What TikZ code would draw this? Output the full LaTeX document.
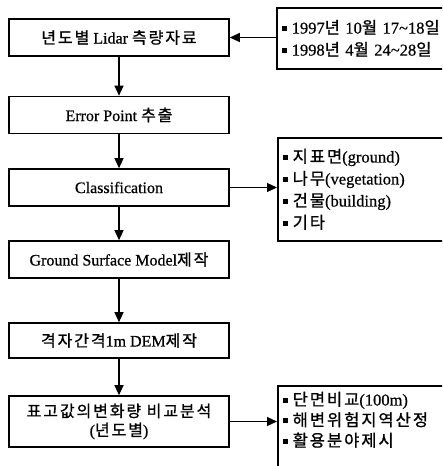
\documentclass[tikz,border=0pt]{standalone}
\usepackage{fontspec}
\setmainfont[FakeBold=0.6]{Liberation Serif}
\newfontfamily\krfont[LetterSpace=12,FakeBold=1]{Noto Sans CJK KR}
\newcommand{\hg}[1]{{\krfont #1}}
\newcommand{\sqbul}{\rule[0.35ex]{0.3em}{0.3em}\hspace{0.3em}}
\usetikzlibrary{arrows.meta}
\usetikzlibrary{positioning}

\begin{document}
\begin{tikzpicture}[x=1pt,y=-1pt,node distance=2cm]
	%defines
	\tikzstyle{stage} = [rectangle, minimum width=220pt, minimum height=37pt, text centered, align=center, draw=black, line width=1.6pt, font=\fontsize{16}{19}\selectfont]
	\tikzstyle{notes} = [rectangle, minimum width=190pt, text width=180pt, align=left, anchor=north west, draw=black, line width=1.6pt, inner xsep=3pt, font=\fontsize{16.5}{22}\selectfont]
	\tikzstyle{arrow} = [line width=1.2pt,-{Triangle[length=10pt,width=9pt]}]
	\useasboundingbox (0,0) rectangle (442,466);
	\clip (0,0) rectangle (442,466);
	%chart
	\node (lidarData) [stage] at (119,37.5) {\hg{년도별} Lidar \hg{측량자료}};
	\node (errorPoint) [stage, below of=lidarData, node distance=77.5pt] {Error Point \hg{추출}};
	\node (classification) [stage, below of=errorPoint, node distance=72.5pt] {Classification};
	\node (groundModel) [stage, below of=classification, node distance=72pt] {Ground Surface Model\hg{제작}};
	\node (gridDem) [stage, below of=groundModel, node distance=81pt, minimum height=35pt] {\hg{격자간격}1m DEM\hg{제작}};
	\node (heightChange) [stage, below of=gridDem, node distance=81pt, minimum height=51pt] {\hg{표고값의변화량 비교분석}\\(\hg{년도별})};
	%notes
	\node (dateList) [notes, minimum height=61pt] at (276,7) {\sqbul 1997\hg{년} 10\hg{월} 17\textasciitilde18\hg{일}\\\sqbul 1998\hg{년} 4\hg{월} 24\textasciitilde28\hg{일}};
	\node (classList) [notes, minimum height=103pt] at (277,137) {\sqbul\hg{지표면}(ground)\\\sqbul\hg{나무}(vegetation)\\\sqbul\hg{건물}(building)\\\sqbul\hg{기타}};
	\node (useList) [notes, inner ysep=6pt, font=\fontsize{16.5}{20.5}\selectfont] at (277,385) {\parbox[t][112pt][t]{180pt}{\sqbul\hg{단면비교}(100m)\\\sqbul\hg{해변위험지역산정}\\\sqbul\hg{활용분야제시}}};
	%arrows
	\draw [arrow] (lidarData) -- (errorPoint);
	\draw [arrow] (errorPoint) -- (classification);
	\draw [arrow] (classification) -- (groundModel);
	\draw [arrow] (groundModel) -- (gridDem);
	\draw [arrow] (gridDem) -- (heightChange);
	\draw [arrow] (lidarData.east -| dateList.west) -- (lidarData.east);
	\draw [arrow] (classification.east) -- (classification.east -| classList.west);
	\draw [arrow] (heightChange.east) -- (heightChange.east -| useList.west);
\end{tikzpicture}
\end{document}
